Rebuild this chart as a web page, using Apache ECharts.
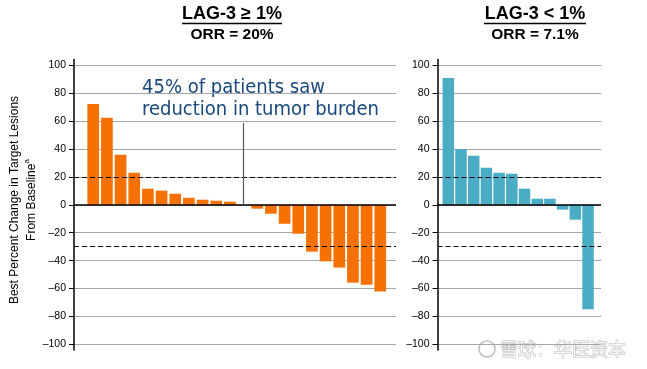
<!DOCTYPE html>
<html><head><meta charset="utf-8">
<script src="https://cdn.jsdelivr.net/npm/echarts@6/dist/echarts.min.js"></script>
<style>html,body{margin:0;padding:0;background:#fff}#c{width:647px;height:369px}</style>
</head><body><div id="c"></div>
<script>
// ---- data ----
const highValues = [72.1, 62.3, 35.8, 22.9, 11.5, 10.1, 7.9, 5.0, 3.6, 2.9, 2.2, 0, -2.8, -6.4, -13.6, -20.7, -33.6, -40.5, -45.0, -55.8, -57.2, -62.2];
const lowValues = [90.7, 39.9, 35.1, 26.5, 22.9, 22.2, 11.5, 4.3, 4.3, -3.5, -10.7, -74.8];
const yTicks = [-100, -80, -60, -40, -20, 0, 20, 40, 60, 80, 100];
const thresholds = [20, -30];
const pointerIndex = 11;
const pointerTop = 58.5;
const panelTitles = ['LAG-3 \u2265 1%', 'LAG-3 < 1%'];
const orrLabels = ['ORR = 20%', 'ORR = 7.1%'];
const annotation = ['45% of patients saw', 'reduction in tumor burden'];
const yAxisTitle = ['Best Percent Change in Target Lesions', 'From Baseline'];
const watermark = '雪球：华医资本';

const ORANGE = '#f57202';
const BLUE = '#4aacc5';
const FONT = '"Liberation Sans", Arial, sans-serif';

function yAxisCfg(gridIndex) {
  return {
    type: 'value', gridIndex, min: -104, max: 104,
    axisLine: { show: true, onZero: false, lineStyle: { color: '#000', width: 1.5 } },
    axisTick: { show: true, length: 5, customValues: yTicks, lineStyle: { color: '#000', width: 1 } },
    axisLabel: { customValues: yTicks, color: '#000', fontSize: 10.5, fontFamily: FONT, margin: 8,
      formatter: v => String(v).replace('-', '\u2013') },
    splitLine: { show: true, lineStyle: { color: '#a6a6a6', width: 1 } }
  };
}
function refLines(extra) {
  const data = [
    { yAxis: 0, lineStyle: { color: '#000', width: 1.5, type: 'solid' } },
    ...thresholds.map(t => ({ yAxis: t, lineStyle: { color: '#000', width: 1, type: [5, 3] } }))
  ];
  return { silent: true, symbol: 'none', label: { show: false }, animation: false,
    data: extra ? data.concat(extra) : data };
}

const option = {
  animation: false,
  grid: [
    { left: 74, right: 251, top: 59.5, bottom: 19 },
    { left: 437.5, right: 46, top: 59.5, bottom: 19 }
  ],
  xAxis: [
    { type: 'value', gridIndex: 0, min: -1.406, max: 22.15, show: false },
    { type: 'value', gridIndex: 1, min: -0.85, max: 12.02, show: false }
  ],
  yAxis: [yAxisCfg(0), yAxisCfg(1)],
  series: [
    { type: 'bar', xAxisIndex: 0, yAxisIndex: 0, barWidth: 11.7,
      itemStyle: { color: ORANGE },
      data: highValues.map((v, i) => [i, v]),
      markLine: refLines([[
        { coord: [pointerIndex, 0], lineStyle: { color: '#595959', width: 1.2, type: 'solid' } },
        { coord: [pointerIndex, pointerTop] }
      ]]) },
    { type: 'bar', xAxisIndex: 1, yAxisIndex: 1, barWidth: 11.5,
      itemStyle: { color: BLUE },
      data: lowValues.map((v, i) => [i, v]),
      markLine: refLines() }
  ],
  graphic: [
    { type: 'text', x: 232, y: 14, style: { text: panelTitles[0], font: 'bold 18px ' + FONT, fill: '#000', align: 'center', verticalAlign: 'middle' } },
    { type: 'text', x: 232, y: 34.5, style: { text: orrLabels[0], font: 'bold 15.5px ' + FONT, fill: '#000', align: 'center', verticalAlign: 'middle' } },
    { type: 'line', shape: { x1: 182, y1: 23.5, x2: 282, y2: 23.5 }, style: { stroke: '#000', lineWidth: 1.5 } },
    { type: 'text', x: 535, y: 14, style: { text: panelTitles[1], font: 'bold 18px ' + FONT, fill: '#000', align: 'center', verticalAlign: 'middle' } },
    { type: 'text', x: 535, y: 34.5, style: { text: orrLabels[1], font: 'bold 15.5px ' + FONT, fill: '#000', align: 'center', verticalAlign: 'middle' } },
    { type: 'line', shape: { x1: 484, y1: 23.5, x2: 586, y2: 23.5 }, style: { stroke: '#000', lineWidth: 1.5 } },
    { type: 'text', x: 142, y: 76.5, style: { text: annotation.join('\n'), font: '20px "DejaVu Sans Condensed", "DejaVu Sans", sans-serif', lineHeight: 22, fill: '#17497d', align: 'left', verticalAlign: 'top' } },
    { type: 'text', x: 23, y: 200, rotation: Math.PI / 2,
      style: { text: '{a|' + yAxisTitle[0] + '}\n{a|' + yAxisTitle[1] + '}{s|a}', align: 'center', verticalAlign: 'middle',
        rich: { a: { fontSize: 12, fontFamily: FONT, lineHeight: 16.7, fill: '#000', color: '#000' },
                s: { fontSize: 8, fontFamily: FONT, lineHeight: 8, verticalAlign: 'top', fill: '#000', color: '#000' } } } },
    { type: 'circle', shape: { cx: 487, cy: 349, r: 8 }, style: { fill: 'rgba(255,255,255,0.6)', stroke: '#bdbdbd', lineWidth: 1.5 } },
    { type: 'text', x: 500, y: 349, style: { text: watermark, font: '18px "Noto Sans CJK SC", sans-serif', fill: 'rgba(255,255,255,0.85)', stroke: '#b8b8b8', lineWidth: 1, align: 'left', verticalAlign: 'middle' } }
  ]
};
const chart = echarts.init(document.getElementById('c'), null, { renderer: 'canvas' });
chart.setOption(option);
</script>
</body></html>
